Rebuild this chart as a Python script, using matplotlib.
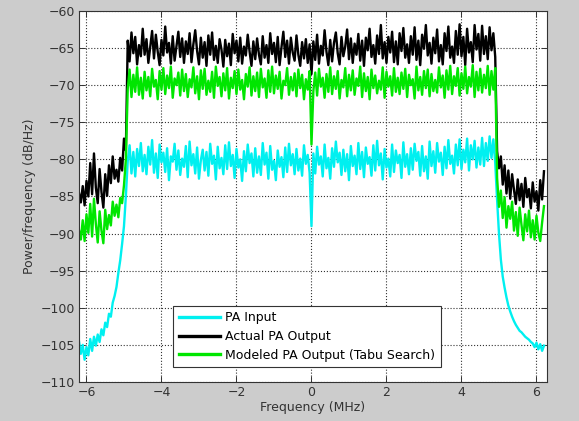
import numpy as np
import matplotlib
matplotlib.use("Agg")
import matplotlib.pyplot as plt

# ---------------- data (dB/Hz) ----------------
# frequency segments (MHz): left skirt, occupied band, right skirt
left_start, left_end = -6.2, -4.95
band_start, band_end = -4.9, 4.9
right_start, right_end = 4.95, 6.2

pa_input_left = [-104.5, -106.2, -105.0, -107.0, -105.3, -106.4, -104.2, -105.8, -103.9, -105.1,
                 -103.6, -104.6, -102.9, -103.7, -102.0, -102.6, -100.8, -101.2, -99.3, -98.4,
                 -97.2, -95.3, -93.6, -91.4, -89.0, -85.0]
pa_input_band = [-80.2, -78.1, -81.9, -79.0, -82.3, -78.6, -80.9, -77.8, -81.6, -79.4,
                 -82.0, -78.3, -80.7, -77.4, -81.8, -79.2, -82.5, -78.0, -80.4, -79.1,
                 -81.7, -78.5, -82.8, -79.6, -80.3, -77.9, -81.4, -78.8, -82.1, -79.9,
                 -81.0, -78.2, -82.4, -77.6, -80.8, -79.3, -81.9, -78.4, -82.6, -80.1,
                 -78.7, -81.5, -79.0, -82.2, -77.9, -80.6, -79.5, -82.7, -78.3, -81.2,
                 -79.8, -82.0, -78.1, -81.3, -77.7, -80.9, -79.4, -82.5, -78.6, -81.1,
                 -80.0, -82.9, -78.9, -81.6, -78.0, -80.5, -79.2, -82.3, -78.5, -81.8,
                 -79.6, -82.1, -77.8, -80.7, -79.1, -82.6, -78.2, -81.4, -80.2, -82.8,
                 -78.8, -81.0, -79.7, -82.4, -78.4, -81.7, -77.9, -80.8, -79.3, -82.0,
                 -78.6, -81.5, -79.9, -82.2, -78.1, -80.6, -79.4, -81.8,
                 -89.0,
                 -79.2, -81.9, -78.3, -80.7, -79.6, -82.3, -78.0, -81.2, -79.8, -82.6,
                 -78.5, -81.0, -77.6, -80.4, -79.1, -82.1, -78.7, -81.6, -79.3, -82.8,
                 -78.2, -80.9, -79.5, -82.0, -77.8, -81.3, -79.0, -82.4, -78.4, -80.6,
                 -79.7, -82.2, -78.1, -81.5, -77.5, -80.8, -79.2, -82.7, -78.6, -81.1,
                 -79.9, -82.3, -78.0, -81.7, -78.8, -80.5, -79.4, -82.5, -77.7, -81.0,
                 -79.3, -82.0, -78.5, -81.4, -77.9, -80.2, -79.0, -82.2, -78.2, -81.6,
                 -79.6, -82.6, -77.6, -80.9, -78.9, -81.8, -77.8, -80.3, -79.1, -82.1,
                 -78.3, -81.2, -77.4, -80.6, -79.5, -81.9, -78.0, -80.8, -77.3, -81.3,
                 -78.7, -80.4, -77.2, -81.5, -78.1, -80.0, -77.5, -81.1, -78.4, -80.7,
                 -77.1, -80.9, -77.8, -80.2, -76.9, -79.8, -77.3, -80.5]
pa_input_right = [-85.5, -90.0, -93.5, -95.8, -97.3, -98.6, -99.7, -100.5, -101.2, -101.8,
                  -102.3, -102.7, -103.1, -103.3, -103.6, -103.9, -104.1, -104.3, -104.6, -104.8,
                  -105.3, -104.7, -105.6, -104.9, -105.8, -105.1]

actual_left = [-84.5, -85.8, -83.6, -86.2, -82.9, -85.0, -80.5, -84.7, -79.2, -83.8,
               -85.9, -81.3, -84.4, -86.5, -82.0, -84.9, -80.8, -83.2, -79.6, -82.6,
               -81.4, -83.0, -79.8, -81.5, -77.2, -78.8]
actual_band = [-64.0, -66.8, -62.9, -65.7, -63.5, -67.2, -64.6, -66.1, -62.4, -65.9,
               -63.8, -67.0, -64.9, -62.7, -66.4, -63.2, -65.5, -67.3, -63.9, -66.0,
               -62.1, -65.6, -64.3, -67.1, -63.4, -66.7, -64.8, -62.8, -66.2, -63.7,
               -67.0, -64.1, -65.8, -63.0, -66.9, -64.5, -62.6, -65.4, -67.2, -63.6,
               -66.3, -64.2, -67.4, -63.3, -65.9, -62.9, -66.6, -64.7, -67.0, -63.8,
               -65.2, -67.5, -63.9, -66.1, -64.4, -67.3, -63.1, -65.7, -64.0, -66.8,
               -63.6, -67.1, -64.8, -66.0, -63.2, -65.5, -67.4, -64.1, -66.5, -63.7,
               -65.9, -67.2, -63.4, -66.3, -64.6, -67.0, -63.0, -65.8, -64.3, -66.9,
               -63.5, -67.3, -64.9, -62.8, -66.2, -64.0, -67.1, -63.6, -65.6, -66.7,
               -63.3, -65.9, -67.4, -64.2, -66.4, -63.8, -67.0, -64.5,
               -68.5,
               -64.1, -66.6, -63.2, -67.1, -64.7, -66.0, -62.6, -65.5, -67.3, -63.9,
               -66.8, -64.3, -62.9, -65.7, -67.2, -63.5, -66.1, -64.8, -62.5, -66.5,
               -63.7, -67.0, -64.4, -65.9, -63.1, -66.7, -64.0, -67.4, -63.6, -65.3,
               -62.4, -66.2, -64.6, -67.1, -63.3, -65.8, -61.9, -66.4, -64.2, -67.0,
               -63.5, -65.6, -62.8, -66.9, -64.1, -67.2, -63.0, -65.4, -62.3, -66.3,
               -64.5, -67.0, -63.4, -65.9, -62.2, -66.6, -64.0, -67.3, -63.2, -65.1,
               -61.9, -66.0, -64.3, -67.1, -63.6, -65.7, -62.5, -66.8, -64.6, -67.2,
               -63.0, -65.4, -62.1, -66.3, -64.8, -67.0, -62.7, -65.9, -61.8, -66.1,
               -63.5, -67.3, -62.4, -65.6, -64.2, -66.9, -61.9, -65.2, -63.1, -66.7,
               -62.0, -65.8, -63.4, -66.5, -62.2, -65.3, -63.0, -66.2]
actual_right = [-78.9, -81.2, -79.6, -83.4, -80.8, -84.6, -81.5, -85.3, -82.0, -84.1,
                -86.0, -82.7, -85.5, -83.3, -86.4, -82.5, -85.1, -84.0, -86.6, -83.1,
                -85.7, -84.3, -86.9, -82.8, -85.4, -81.6]

modeled_left = [-89.5, -90.8, -88.2, -91.0, -87.4, -89.9, -86.0, -90.4, -85.3, -88.7,
                -91.2, -87.0, -89.6, -91.3, -86.8, -89.4, -87.5, -88.9, -85.7, -87.6,
                -86.1, -87.8, -85.2, -85.9, -83.5, -80.0]
modeled_band = [-70.5, -67.9, -71.6, -68.6, -70.9, -67.6, -71.3, -69.0, -71.8, -68.2,
                -70.7, -68.9, -71.5, -67.8, -70.2, -69.3, -71.9, -68.1, -70.6, -67.7,
                -71.2, -68.7, -70.4, -67.5, -71.7, -69.1, -70.0, -68.3, -71.4, -67.9,
                -70.8, -68.5, -71.6, -69.2, -70.3, -67.6, -71.1, -68.8, -71.9, -68.0,
                -70.5, -67.8, -71.3, -69.4, -70.9, -68.2, -71.7, -67.5, -70.1, -68.9,
                -71.5, -68.4, -70.7, -67.7, -71.8, -69.0, -70.4, -68.1, -71.2, -67.9,
                -70.6, -69.3, -71.9, -68.5, -70.2, -67.6, -71.4, -68.8, -70.8, -68.3,
                -71.6, -67.8, -70.3, -69.1, -71.7, -68.0, -70.9, -67.5, -71.1, -68.7,
                -70.5, -68.2, -71.8, -69.4, -70.0, -67.7, -71.3, -68.9, -70.7, -68.4,
                -71.5, -67.9, -70.4, -68.6, -71.9, -69.2, -70.6, -68.1,
                -78.0,
                -70.8, -68.3, -71.4, -67.8, -70.2, -69.0, -71.7, -68.5, -70.9, -67.6,
                -71.2, -68.8, -70.5, -68.1, -71.8, -69.3, -70.3, -67.7, -71.5, -68.6,
                -70.7, -68.0, -71.3, -69.1, -70.1, -67.5, -71.6, -68.4, -70.8, -68.9,
                -71.9, -67.9, -70.4, -68.7, -71.1, -69.4, -70.6, -67.6, -71.7, -68.2,
                -70.2, -68.8, -71.4, -67.7, -70.9, -69.0, -71.2, -68.3, -70.5, -67.8,
                -71.6, -68.6, -70.0, -69.2, -71.8, -67.5, -70.7, -68.9, -71.3, -68.1,
                -70.4, -67.9, -71.5, -68.5, -70.8, -69.3, -71.0, -67.6, -70.3, -68.7,
                -71.7, -68.0, -70.6, -67.4, -71.2, -68.8, -70.1, -67.7, -71.4, -68.4,
                -70.5, -67.5, -71.1, -68.9, -70.2, -67.3, -71.6, -68.2, -70.7, -67.8,
                -71.0, -68.6, -70.4, -67.4, -71.3, -68.1, -70.6, -67.7]
modeled_right = [-82.5, -86.4, -84.2, -87.9, -85.1, -89.2, -86.3, -88.0, -85.7, -89.6,
                 -87.1, -90.3, -86.5, -88.8, -90.9, -87.4, -89.7, -86.9, -90.5, -88.2,
                 -90.8, -87.6, -89.9, -91.0, -88.5, -86.3]

legend_labels = ["PA Input", "Actual PA Output", "Modeled PA Output (Tabu Search)"]
x_ticks = [-6, -4, -2, 0, 2, 4, 6]
y_ticks = [-110, -105, -100, -95, -90, -85, -80, -75, -70, -65, -60]


def build(left, band, right):
    f = np.concatenate([np.linspace(left_start, left_end, len(left)),
                        np.linspace(band_start, band_end, len(band)),
                        np.linspace(right_start, right_end, len(right))])
    return f, np.array(left + band + right)


# ---------------- figure ----------------
plt.rcParams['font.family'] = ['DejaVu Sans']
fig = plt.figure(figsize=(5.79, 4.21), dpi=100, facecolor='#cccccc')
ax = fig.add_axes([0.1364, 0.0926, 0.8083, 0.8814])
ax.set_facecolor('white')

f, v = build(pa_input_left, pa_input_band, pa_input_right)
ax.plot(f, v, color='#00f0f0', lw=1.7, label=legend_labels[0])
f, v = build(actual_left, actual_band, actual_right)
ax.plot(f, v, color='black', lw=1.7, label=legend_labels[1])
f, v = build(modeled_left, modeled_band, modeled_right)
ax.plot(f, v, color='#00e600', lw=1.7, label=legend_labels[2])

ax.set_xlim(-6.2, 6.28)
ax.set_ylim(-110, -60)
ax.set_xticks(x_ticks)
ax.set_yticks(y_ticks)
ax.tick_params(direction='in', top=True, right=True, labelsize=9,
               colors='#333333', length=4, width=0.7, pad=3)
ax.grid(True, linestyle=':', color='#333333', linewidth=0.8)
for s in ax.spines.values():
    s.set_color('#333333')
    s.set_linewidth(0.8)

ax.set_xlabel('Frequency (MHz)', fontsize=9, color='#333333', labelpad=1)
ax.set_ylabel('Power/frequency (dB/Hz)', fontsize=9, color='#333333', labelpad=3)

leg = ax.legend(loc='lower left', bbox_to_anchor=(0.201, 0.04), fontsize=9,
                frameon=True, fancybox=False, framealpha=1, edgecolor='#333333',
                handlelength=3.3, handletextpad=0.4, borderpad=0.45,
                labelspacing=0.45, borderaxespad=0)
leg.get_frame().set_linewidth(0.8)
for line in leg.get_lines():
    line.set_linewidth(2.4)

fig.savefig('out.png', dpi=100, facecolor=fig.get_facecolor())
